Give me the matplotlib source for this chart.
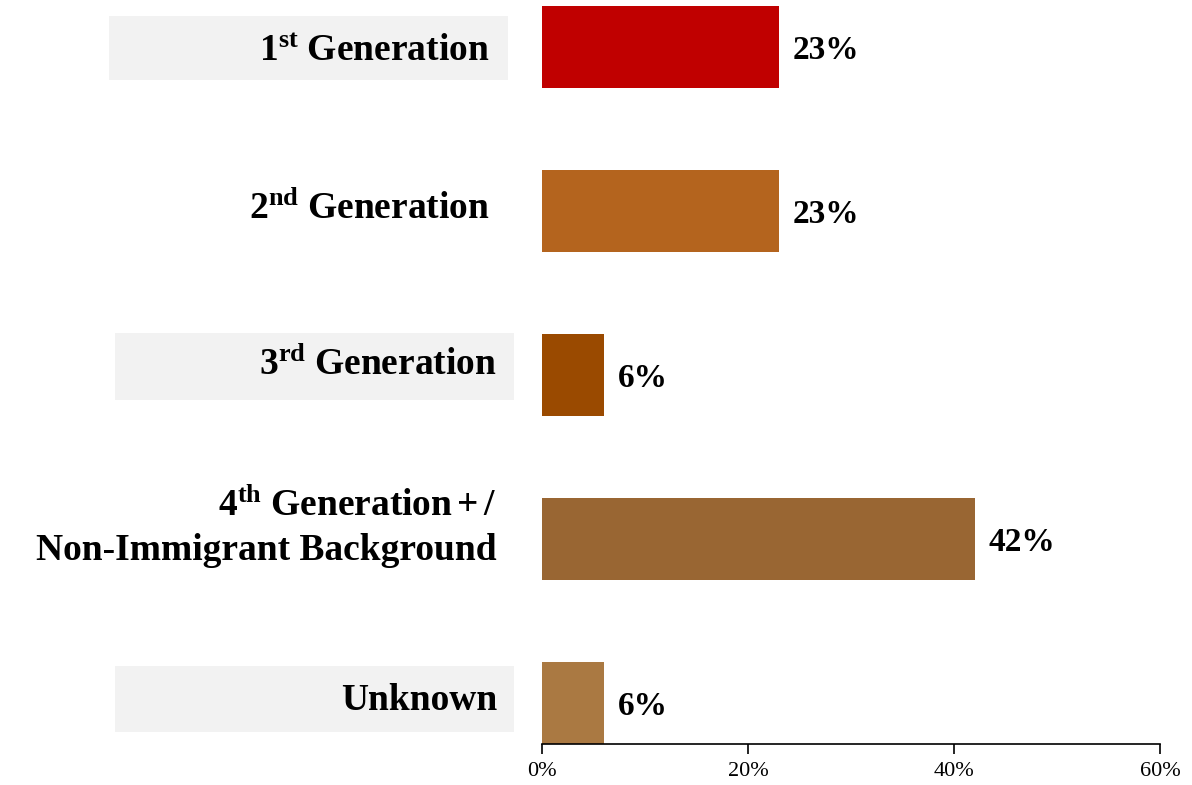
import matplotlib
matplotlib.use("Agg")
import matplotlib.pyplot as plt
from matplotlib.patches import Rectangle
from matplotlib.transforms import blended_transform_factory, offset_copy

plt.rcParams['font.family'] = ['Liberation Serif', 'DejaVu Serif']
plt.rcParams['mathtext.fontset'] = 'custom'
plt.rcParams['mathtext.rm'] = 'Liberation Serif'
plt.rcParams['mathtext.bf'] = 'Liberation Serif:bold'
plt.rcParams['mathtext.it'] = 'Liberation Serif:italic'

# Data
categories = [
    r'$\mathbf{1^{st}\ Generation}$',
    r'$\mathbf{2^{nd}\ Generation}$',
    r'$\mathbf{3^{rd}\ Generation}$',
    r'$\mathbf{4^{th}\ Generation+/}$' + '\nNon-Immigrant Background',
    'Unknown',
]
values = [23, 23, 6, 42, 6]
value_labels = ['23%', '23%', '6%', '42%', '6%']
colors = ['#C00000', '#B4641E', '#9A4A00', '#996633', '#AA7942']
xticks = [0, 20, 40, 60]
xtick_labels = ['0%', '20%', '40%', '60%']

W, H = 1192, 785
fig = plt.figure(figsize=(W / 100, H / 100), dpi=100)
ax = fig.add_axes([542 / W, (H - 744) / H, (1160 - 542) / W, 744 / H])

ypos = list(range(len(values)))
ax.barh(ypos, values, height=0.5, color=colors)
ax.set_ylim(4.25, -0.287)
ax.set_xlim(0, 60)

for s in ['top', 'right', 'left']:
    ax.spines[s].set_visible(False)
ax.spines['bottom'].set_linewidth(1.2)
ax.set_yticks([])
ax.set_xticks(xticks)
ax.set_xticklabels(xtick_labels, fontsize=16)
ax.tick_params(axis='x', direction='out', length=7, width=1.2, pad=6)

# value labels beside each bar
for y, v, lab in zip(ypos, values, value_labels):
    tr = offset_copy(ax.transData, fig=fig, x=14, y=-3, units='dots')
    ax.text(v, y, lab, transform=tr, ha='left', va='center',
            fontsize=24, fontweight='bold')

# category labels with light grey panels
bt = blended_transform_factory(fig.transFigure, ax.transData)
panels = {0: (109, 508, 16, 80), 2: (115, 514, 333, 400), 4: (115, 514, 666, 732)}
px_per_unit = 744 / (4.25 + 0.287)
for i, (x0, x1, y0, y1) in panels.items():
    d0 = -0.287 + y0 / px_per_unit
    d1 = -0.287 + y1 / px_per_unit
    ax.add_patch(Rectangle((x0 / W, d0), (x1 - x0) / W, d1 - d0,
                           transform=bt, facecolor='#F2F2F2',
                           edgecolor='none', clip_on=False, zorder=0))

label_right = [490, 490, 497, 497, 497]
label_dy = [3, -2, -10, -11, -3]
for y, cat, xr, dy in zip(ypos, categories, label_right, label_dy):
    d = y + dy / px_per_unit
    ax.text(xr / W, d, cat, transform=bt, ha='right', va='center',
            fontsize=27, fontweight='bold', multialignment='right',
            linespacing=1.35, clip_on=False)

fig.savefig('out.png', dpi=100)
